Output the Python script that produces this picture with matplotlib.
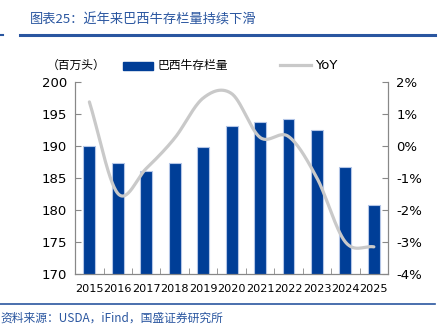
import matplotlib
matplotlib.use("Agg")
import matplotlib.pyplot as plt
import numpy as np
from matplotlib.lines import Line2D
from matplotlib.patches import Rectangle

plt.rcParams['font.family'] = ['DejaVu Sans', 'Noto Sans CJK SC']

years = ['2015', '2016', '2017', '2018', '2019', '2020', '2021', '2022', '2023', '2024', '2025']
cattle = [190.0, 187.3, 186.1, 187.3, 189.9, 193.1, 193.7, 194.3, 192.5, 186.8, 180.8]
yoy = [1.38, -1.48, -0.70, 0.25, 1.50, 1.64, 0.27, 0.30, -1.00, -3.00, -3.15]

left_ticks = [170, 175, 180, 185, 190, 195, 200]
right_ticks = [-4, -3, -2, -1, 0, 1, 2]

BLUE = '#003E97'
GREY = '#C9C9C9'
TXT_BLUE = '#2A56A0'

fig = plt.figure(figsize=(4.42, 3.35), dpi=100)
ax = fig.add_axes([0.170, 0.182, 0.708, 0.573])
ax2 = ax.twinx()

x = np.arange(len(years))
ax.bar(x, cattle, width=0.42, color=BLUE, edgecolor='#B4C6E7', linewidth=0.8, zorder=2)
ax.set_ylim(170, 200)
ax.set_xlim(-0.5, len(years) - 0.5)
ax.set_yticks(left_ticks)
ax.set_yticklabels([str(v) for v in left_ticks], fontsize=9.5)
ax.set_xticks(x)
ax.set_xticklabels(years, fontsize=8.1)
ax.set_xticks(np.arange(-0.5, len(years), 1), minor=True)
ax.tick_params(axis='x', which='major', length=0, pad=7)
ax.tick_params(axis='x', which='minor', length=4, direction='in', color='#888888')
ax.tick_params(axis='y', length=4, direction='in', color='#888888', pad=6)

# smooth line (Catmull-Rom through data points)
def catmull(xs, ys, n=30):
    px = np.concatenate([[2*xs[0]-xs[1]], xs, [2*xs[-1]-xs[-2]]])
    py = np.concatenate([[2*ys[0]-ys[1]], ys, [2*ys[-1]-ys[-2]]])
    ox, oy = [], []
    for i in range(1, len(px) - 2):
        t = np.linspace(0, 1, n, endpoint=False)
        for arr, out in ((px, ox), (py, oy)):
            p0, p1, p2, p3 = arr[i-1], arr[i], arr[i+1], arr[i+2]
            out.extend(0.5*((2*p1) + (-p0+p2)*t + (2*p0-5*p1+4*p2-p3)*t**2 + (-p0+3*p1-3*p2+p3)*t**3))
    ox.append(xs[-1]); oy.append(ys[-1])
    return np.array(ox), np.array(oy)

sx, sy = catmull(x.astype(float), np.array(yoy, dtype=float))
ax2.plot(sx, sy, color=GREY, linewidth=2.3, solid_capstyle='round', zorder=3)
ax2.set_ylim(-4, 2)
ax2.set_yticks(right_ticks)
ax2.set_yticklabels([f'{v}%' for v in right_ticks], fontsize=9.5)
ax2.tick_params(axis='y', length=4, direction='in', color='#888888', pad=6)

for a in (ax, ax2):
    a.spines['top'].set_visible(False)
    for s in ('left', 'right', 'bottom'):
        a.spines[s].set_color('#888888')
        a.spines[s].set_linewidth(0.8)
ax2.patch.set_visible(False)

# Title and decorations
fig.text(0.068, 0.94, '图表25：近年来巴西牛存栏量持续下滑', fontsize=9.5, color=TXT_BLUE,
         style='italic', family=['Noto Sans CJK SC'], va='center', ha='left')
fig.add_artist(Line2D([0.046, 0.985], [0.897, 0.897], color=TXT_BLUE, linewidth=2.2))
fig.add_artist(Line2D([0.0, 0.006], [0.897, 0.897], color=TXT_BLUE, linewidth=1.5))
fig.add_artist(Line2D([0.0, 0.985], [0.093, 0.093], color=TXT_BLUE, linewidth=1.2))
fig.text(0.0, 0.05, '资料来源：USDA，iFind，国盛证券研究所', fontsize=8.5, color=TXT_BLUE,
         style='italic', family=['Noto Sans CJK SC', 'DejaVu Sans'], va='center', ha='left')

# legend row
fig.text(0.105, 0.805, '（百万头）', fontsize=8.5, family=['Noto Sans CJK SC'], va='center', ha='left')
fig.add_artist(Rectangle((0.279, 0.792), 0.068, 0.024, color=BLUE, transform=fig.transFigure))
fig.text(0.357, 0.805, '巴西牛存栏量', fontsize=8.5, family=['Noto Sans CJK SC'], va='center', ha='left')
fig.add_artist(Line2D([0.633, 0.703], [0.805, 0.805], color=GREY, linewidth=2.3, transform=fig.transFigure))
fig.text(0.712, 0.805, 'YoY', fontsize=9.5, va='center', ha='left')

fig.savefig('out.png', dpi=100)
